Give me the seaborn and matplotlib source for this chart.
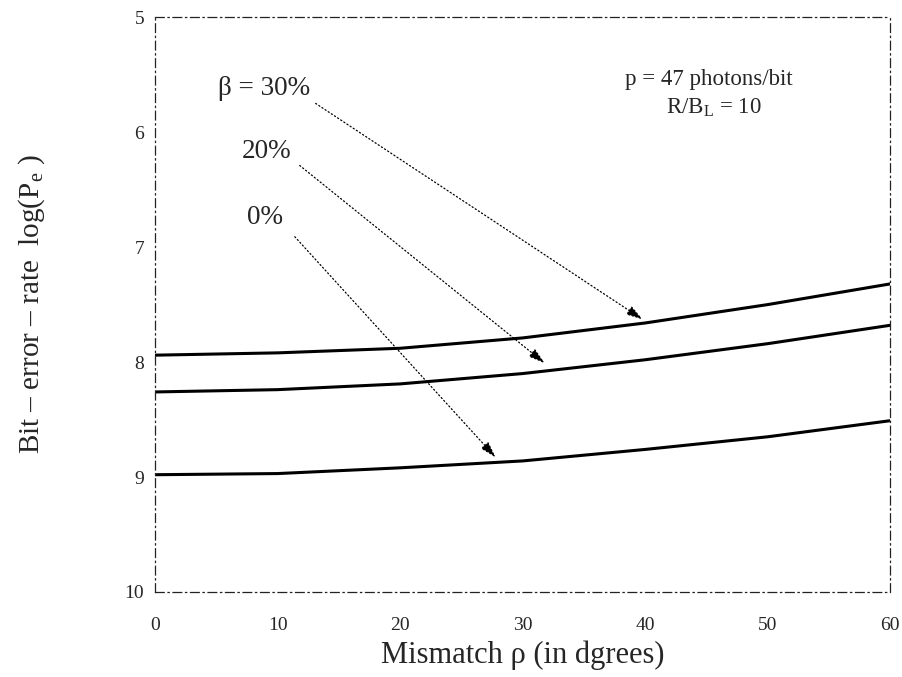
import numpy as np
import pandas as pd
import matplotlib
matplotlib.use("Agg")
import matplotlib.pyplot as plt
import seaborn as sns

# ---- data ----
mismatch = [0, 10, 20, 30, 40, 50, 60]
ber_beta30 = [7.94, 7.92, 7.88, 7.79, 7.66, 7.50, 7.32]
ber_beta20 = [8.26, 8.24, 8.19, 8.10, 7.98, 7.84, 7.68]
ber_beta0 = [8.98, 8.97, 8.92, 8.86, 8.76, 8.65, 8.51]
beta_labels = ["β = 30%", "20%", "0%"]
y_ticks = [5, 6, 7, 8, 9, 10]
x_ticks = [0, 10, 20, 30, 40, 50, 60]

# annotation anchors (label position, arrow start, arrow tip) in data units
label_pos = [(5.1, 5.62), (7.1, 6.17), (7.5, 6.74)]
arrow_start = [(13.1, 5.75), (11.8, 6.29), (11.4, 6.91)]
arrow_tip = [(39.8, 7.63), (31.8, 8.01), (27.8, 8.83)]

df = pd.DataFrame({
    "mismatch": mismatch * 3,
    "ber": ber_beta30 + ber_beta20 + ber_beta0,
    "beta": [beta_labels[0]] * 7 + [beta_labels[1]] * 7 + [beta_labels[2]] * 7,
})

sns.set_style("white")
plt.rcParams["font.family"] = ["Liberation Serif", "DejaVu Serif"]
plt.rcParams["mathtext.fontset"] = "custom"
plt.rcParams["mathtext.rm"] = "Liberation Serif"
plt.rcParams["mathtext.it"] = "Liberation Serif:italic"

fig = plt.figure(figsize=(9.02, 6.77), dpi=100)
ax = fig.add_axes([0.172, 0.1256, 0.815, 0.849])

sns.lineplot(data=df, x="mismatch", y="ber", hue="beta",
             palette=["black", "black", "black"], linewidth=2.2,
             legend=False, ax=ax)

ax.set_xlim(0, 60)
ax.set_ylim(10, 5)
ax.set_xticks(x_ticks)
ax.set_yticks(y_ticks)
ax.set_xticklabels([str(v) for v in x_ticks])
ax.set_yticklabels([str(v) for v in y_ticks])
ax.tick_params(axis="x", length=2, width=0.8, pad=18, labelsize=14, direction="in")
ax.tick_params(axis="y", length=2, width=0.8, pad=8, labelsize=14, direction="in")

for s in ax.spines.values():
    s.set_linestyle((0, (7, 3, 1, 3)))
    s.set_linewidth(0.9)
    s.set_color("#222222")

ax.set_xlabel("Mismatch ρ (in dgrees)", fontsize=22, labelpad=5)
ax.set_ylabel(r"Bit – error – rate  log(P$_\mathrm{e}$ )", fontsize=21, labelpad=56)

for lab, lp, st, tp in zip(beta_labels, label_pos, arrow_start, arrow_tip):
    ax.text(lp[0], lp[1], lab, fontsize=19.5, ha="left", va="center")
    ax.annotate("", xy=tp, xytext=st,
                arrowprops=dict(arrowstyle="-|>,head_length=1.0,head_width=0.3",
                                color="black", linewidth=0.9,
                                linestyle=(0, (1, 2)), shrinkA=0, shrinkB=0))

ax.text(45.2, 5.54, "p = 47 photons/bit", fontsize=16.5, ha="center", va="center")
ax.text(45.6, 5.79, r"R/B$_\mathrm{L}$ = 10", fontsize=16.5, ha="center", va="center")

fig.savefig("out.png", dpi=100)
